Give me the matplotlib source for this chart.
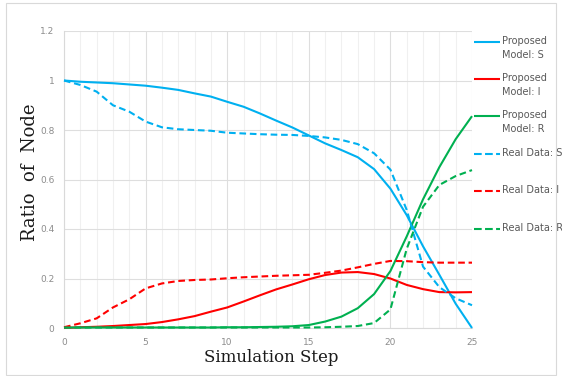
import matplotlib
matplotlib.use("Agg")
import matplotlib.pyplot as plt
from matplotlib.lines import Line2D
from matplotlib.patches import Rectangle
import numpy as np

steps = list(range(26))
model_S = [1.0, 0.995, 0.992, 0.989, 0.984, 0.979, 0.971, 0.962, 0.948, 0.935, 0.914,
           0.894, 0.867, 0.838, 0.81, 0.778, 0.746, 0.719, 0.69, 0.642, 0.563, 0.456,
           0.33, 0.215, 0.098, 0.0]
model_I = [0.0, 0.003, 0.005, 0.008, 0.012, 0.016, 0.024, 0.035, 0.048, 0.066, 0.083,
           0.107, 0.132, 0.156, 0.176, 0.197, 0.214, 0.224, 0.226, 0.218, 0.2, 0.174,
           0.157, 0.145, 0.144, 0.145]
model_R = [0.002, 0.002, 0.002, 0.002, 0.002, 0.002, 0.002, 0.002, 0.002, 0.002, 0.003,
           0.003, 0.004, 0.005, 0.007, 0.012, 0.026, 0.046, 0.08, 0.137, 0.23, 0.37,
           0.52, 0.65, 0.763, 0.856]
real_S = [1.0, 0.982, 0.955, 0.9, 0.874, 0.834, 0.811, 0.803, 0.8, 0.797, 0.789,
          0.786, 0.783, 0.781, 0.78, 0.776, 0.77, 0.76, 0.743, 0.706, 0.64, 0.477,
          0.248, 0.165, 0.12, 0.092]
real_I = [0.003, 0.019, 0.039, 0.083, 0.116, 0.16, 0.18, 0.19, 0.194, 0.196, 0.201,
          0.205, 0.208, 0.211, 0.213, 0.215, 0.223, 0.232, 0.245, 0.259, 0.271, 0.27,
          0.266, 0.264, 0.264, 0.264]
real_R = [0.002, 0.002, 0.002, 0.002, 0.002, 0.002, 0.002, 0.002, 0.002, 0.002, 0.002,
          0.002, 0.002, 0.002, 0.002, 0.002, 0.003, 0.005, 0.008, 0.02, 0.075, 0.32,
          0.49, 0.578, 0.614, 0.638]
labels = ["Proposed\nModel: S", "Proposed\nModel: I", "Proposed\nModel: R",
          "Real Data: S", "Real Data: I", "Real Data: R"]
x_ticks = [0, 5, 10, 15, 20, 25]
y_ticks = [0, 0.2, 0.4, 0.6, 0.8, 1.0, 1.2]
y_tick_labels = ["0", "0.2", "0.4", "0.6", "0.8", "1", "1.2"]

BLUE = "#00B0F0"
RED = "#FF0000"
GREEN = "#00B050"
DASH = (0, (3.2, 1.8))

W, H = 562, 376
fig = plt.figure(figsize=(W / 100, H / 100), dpi=100)
ax = fig.add_axes([64 / W, 1 - 328 / H, (472 - 64) / W, (328 - 31) / H])

series = [(model_S, BLUE, "-"), (model_I, RED, "-"), (model_R, GREEN, "-"),
          (real_S, BLUE, DASH), (real_I, RED, DASH), (real_R, GREEN, DASH)]
lines = []
for vals, c, ls in series:
    ln, = ax.plot(steps, vals, color=c, lw=1.5, ls=ls, solid_capstyle="butt",
                  dash_capstyle="butt", zorder=3, clip_on=False)
    lines.append(ln)

ax.set_xlim(0, 25)
ax.set_ylim(0, 1.2)
ax.set_xticks(x_ticks)
ax.set_xticks(range(26), minor=True)
ax.set_yticks(y_ticks)
ax.set_yticklabels(y_tick_labels)
ax.grid(True, which="major", color="#dedede", lw=0.8, zorder=0)
ax.grid(True, which="minor", axis="x", color="#f0f0f0", lw=0.8, zorder=0)
for s in ["top", "right"]:
    ax.spines[s].set_visible(False)
ax.spines["left"].set_color("#d9d9d9")
ax.spines["bottom"].set_color("#d9d9d9")
ax.spines["left"].set_linewidth(0.8)
ax.spines["bottom"].set_linewidth(0.8)
ax.tick_params(which="both", length=0, labelsize=6.5, labelcolor="#8c8c8c", pad=7)
for t in ax.get_xticklabels() + ax.get_yticklabels():
    t.set_family("DejaVu Sans")

fig.text(30 / W, 1 - 172 / H, "Ratio  of  Node", rotation=90, ha="center", va="center",
         fontsize=13, family="DejaVu Serif", color="#1a1a1a")
fig.text(271 / W, 1 - 357 / H, "Simulation Step", ha="center", va="center",
         fontsize=12, family="DejaVu Serif", color="#1a1a1a")

# Legend on the right
ys = [42, 79, 116, 154, 191, 229]
for ln, lab, y in zip(lines, labels, ys):
    fig.add_artist(Line2D([474 / W, 500 / W], [1 - y / H, 1 - y / H],
                          transform=fig.transFigure, color=ln.get_color(),
                          lw=1.5, ls=ln.get_linestyle(), solid_capstyle="butt"))
    fig.text(502 / W, 1 - (y - 6) / H, lab, ha="left", va="top", fontsize=7,
             color="#595959", family="DejaVu Sans", linespacing=1.55)

fig.add_artist(Rectangle((6.5 / W, 1.5 / H), (556 - 6.5) / W, (373 - 1.5) / H,
                         transform=fig.transFigure, fill=False, ec="#d9d9d9", lw=0.8))

fig.savefig("out.png", dpi=100)
